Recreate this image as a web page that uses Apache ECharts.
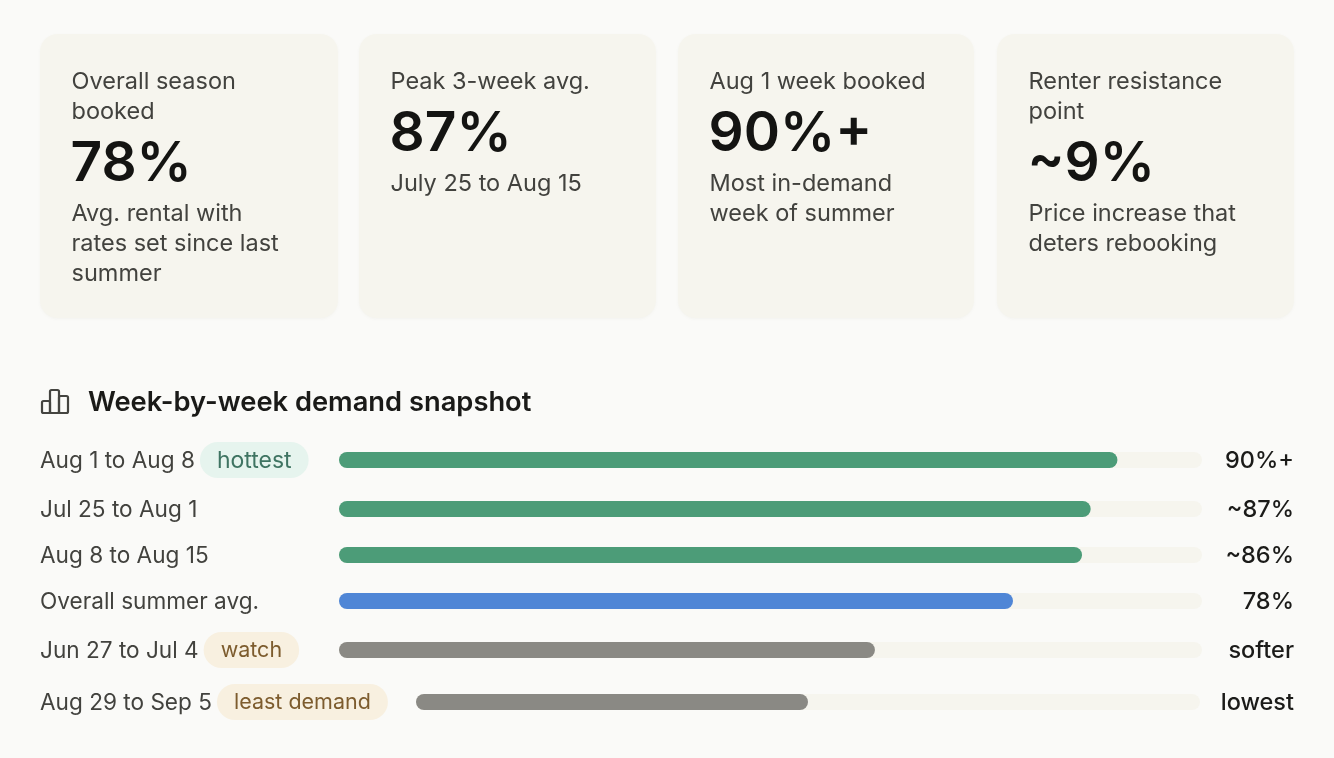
<!DOCTYPE html>
<html>
<head>
<meta charset="utf-8">
<title>Summer rental demand</title>
<script src="https://cdn.jsdelivr.net/npm/echarts@6/dist/echarts.min.js"></script>
<style>
    html, body { margin: 0; padding: 0; background: #fafaf8; }
    #chart { width: 1334px; height: 758px; }
</style>
</head>
<body>
<div id="chart"></div>
<script>
// 顶部卡片
const cardLabels = [['Overall season', 'booked'], ['Peak 3-week avg.'], ['Aug 1 week booked'], ['Renter resistance', 'point']];
const cardNumbers = ['78%', '87%', '90%+', '~9%'];
const cardNotes = [
    ['Avg. rental with', 'rates set since last', 'summer'],
    ['July 25 to Aug 15'],
    ['Most in-demand', 'week of summer'],
    ['Price increase that', 'deters rebooking']
];

// 每周数据
const weekLabels = ['Aug 1 to Aug 8', 'Jul 25 to Aug 1', 'Aug 8 to Aug 15', 'Overall summer avg.', 'Jun 27 to Jul 4', 'Aug 29 to Sep 5'];
const weekTags = ['hottest', '', '', '', 'watch', 'least demand'];
const weekValues = [90.2, 87.1, 86.1, 78.1, 62.1, 50];
const weekValueLabels = ['90%+', '~87%', '~86%', '78%', 'softer', 'lowest'];
const weekKinds = ['hot', 'hot', 'hot', 'avg', 'low', 'low'];

const FONT = 'Inter';
const barColors = { hot: '#4c9c78', avg: '#4f86d6', low: '#8a8984' };
const cardLeft = [40, 359, 678, 997];
const cardWidth = [298, 297, 296, 297];
const rowCenter = [460, 509, 555, 601, 650, 702];

let chart = echarts.init(document.getElementById('chart'));

function textEl(x, y, text, size, weight, color) {
    return {
        type: 'text', x: x, y: y,
        style: { text: text, fontFamily: FONT, fontSize: size, fontWeight: weight, fill: color, verticalAlign: 'middle' }
    };
}

// 卡片用 graphic 画
const graphics = [];
cardNumbers.forEach(function(num, i) {
    graphics.push({
        type: 'rect', x: cardLeft[i], y: 34,
        shape: { width: cardWidth[i], height: 284, r: 18 },
        style: { fill: '#f6f5ee', shadowBlur: 3, shadowColor: 'rgba(120,110,80,0.05)', shadowOffsetY: 1 }
    });
    const tx = cardLeft[i] + 31.5;
    let y = 82;
    cardLabels[i].forEach(function(line, k) {
        y = 82 + 30 * k;
        graphics.push(textEl(tx, y, line, 23.5, 400, '#42423e'));
    });
    y += 50;
    graphics.push(textEl(tx - 1, y + 2, num, 55, 600, '#141412'));
    y += 52;
    cardNotes[i].forEach(function(line, k) {
        graphics.push(textEl(tx, y + 30 * k, line, 23.5, 400, '#42423e'));
    });
});

// 标题左边的小图标
[[42, 401, 8, 12], [50, 390, 9, 23], [59, 396, 9, 17]].forEach(function(b) {
    graphics.push({
        type: 'rect', x: b[0], y: b[1],
        shape: { width: b[2], height: b[3], r: 1.5 },
        style: { fill: 'none', stroke: '#444440', lineWidth: 2.2 }
    });
});

// 每行一个 grid,最后一行更窄
const grids = [], xAxes = [], yAxes = [], series = [];
weekLabels.forEach(function(label, i) {
    const left = i === 5 ? 416 : 339;
    const width = i === 5 ? 784 : 863;
    grids.push({ left: left, width: width, top: rowCenter[i] - 18, height: 36 });
    xAxes.push({ type: 'value', gridIndex: i, min: 0, max: 100, show: false });
    yAxes.push({
        type: 'category', gridIndex: i, data: [label],
        axisLine: { show: false }, axisTick: { show: false },
        axisLabel: {
            align: 'left',
            margin: left - 40,
            formatter: function(value) {
                if (!weekTags[i]) return '{name|' + value + '}';
                return '{name|' + value + '}{' + (i === 0 ? 'hot' : 'warm') + '|' + weekTags[i] + '}';
            },
            rich: {
                name: { fontFamily: FONT, fontSize: 22.6, color: '#42423e', padding: [2, 5, 0, 0] },
                hot: { fontFamily: FONT, fontSize: 23, color: '#3f7462', backgroundColor: '#e6f4ee', borderRadius: 18, padding: [8, 17, 5, 17] },
                warm: { fontFamily: FONT, fontSize: 21.5, color: '#7d5c2e', backgroundColor: '#f8f0e0', borderRadius: 18, padding: [8, 17, 6, 17] }
            }
        }
    });
    yAxes.push({
        type: 'category', gridIndex: i, position: 'right', data: [weekValueLabels[i]],
        axisLine: { show: false }, axisTick: { show: false },
        axisLabel: {
            align: 'right',
            margin: 1294 - left - width,
            formatter: '{v|{value}}',
            rich: {
                v: { fontFamily: FONT, fontSize: 23.5, fontWeight: 500, color: '#1b1b19', padding: [2, 0, 0, 0] }
            }
        }
    });
    series.push({
        type: 'bar', xAxisIndex: i, yAxisIndex: i * 2, data: [100], barWidth: 16, barGap: '-100%',
        silent: true, itemStyle: { color: '#f6f5ee', borderRadius: 8 }
    });
    series.push({
        type: 'bar', xAxisIndex: i, yAxisIndex: i * 2, data: [weekValues[i]], barWidth: 16, barGap: '-100%',
        silent: true, itemStyle: { color: barColors[weekKinds[i]], borderRadius: 8 }
    });
});

chart.setOption({
    backgroundColor: '#fafaf8',
    animation: false,
    title: {
        text: 'Week-by-week demand snapshot',
        left: 83, top: 384,
        textStyle: { fontFamily: FONT, fontSize: 27.3, fontWeight: 600, color: '#1a1a18' }
    },
    grid: grids,
    xAxis: xAxes,
    yAxis: yAxes,
    series: series,
    graphic: graphics
});
</script>
</body>
</html>
